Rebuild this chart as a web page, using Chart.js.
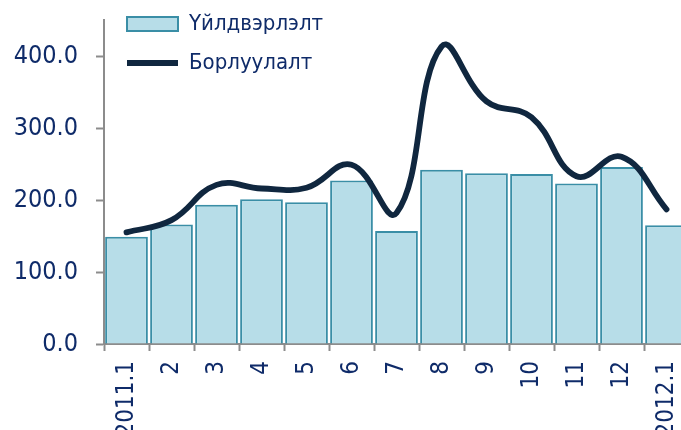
<!DOCTYPE html>
<html>
<head>
<meta charset="utf-8">
<script src="https://cdn.jsdelivr.net/npm/chart.js@4.4.1/dist/chart.umd.min.js"></script>
<style>
  html, body { margin: 0; padding: 0; background: #ffffff; overflow: hidden; width: 681px; height: 430px; }
  #wrap { width: 681px; height: 430px; overflow: hidden; position: relative; }
  canvas { display: block; }
</style>
</head>
<body>
<div id="wrap"><canvas id="c" width="689" height="430"></canvas></div>
<script>
const categories = ['2011.1', '2', '3', '4', '5', '6', '7', '8', '9', '10', '11', '12', '2012.1'];
const productionValues = [149, 166, 193.5, 201, 197, 227, 157, 242, 237, 236, 223, 246, 165];
const salesValues = [155, 172, 221, 216, 217, 249, 182, 413, 337, 315, 233, 260, 187];
const yTicks = [0, 100, 200, 300, 400];
const seriesNames = ['Үйлдвэрлэлт', 'Борлуулалт'];

const FONT = '"DejaVu Sans Condensed", "Liberation Sans", sans-serif';
const NAVY = '#0f2b69';
const GREY = '#8c8c8c';

const legendPlace = {
  id: 'legendPlace',
  afterLayout(chart) {
    if (chart.legend) {
      chart.legend.left = 110;
      chart.legend.top = -4;
    }
  }
};

new Chart(document.getElementById('c'), {
  data: {
    labels: categories,
    datasets: [
      {
        type: 'line',
        label: seriesNames[1],
        data: salesValues,
        borderColor: '#10273f',
        backgroundColor: '#10273f',
        borderWidth: 5.8,
        borderCapStyle: 'round',
        pointRadius: 0,
        pointHoverRadius: 0,
        tension: 0.42,
        fill: false,
        order: 0,
        pointStyle: 'line'
      },
      {
        type: 'bar',
        label: seriesNames[0],
        data: productionValues,
        backgroundColor: '#b7dde8',
        borderColor: '#3a8ea6',
        borderWidth: 2,
        barPercentage: 0.95,
        categoryPercentage: 1.0,
        order: 1,
        pointStyle: 'rect'
      }
    ]
  },
  options: {
    responsive: false,
    animation: false,
    events: [],
    layout: { padding: { top: 20, left: 0, right: 0, bottom: 0 } },
    plugins: {
      tooltip: { enabled: false },
      legend: {
        position: 'chartArea',
        align: 'start',
        reverse: true,
        labels: {
          usePointStyle: true,
          pointStyleWidth: 51,
          boxHeight: 14,
          padding: 17,
          color: NAVY,
          font: { family: FONT, size: 22 }
        }
      }
    },
    scales: {
      x: {
        offset: true,
        grid: {
          offset: true,
          drawOnChartArea: false,
          drawTicks: true,
          tickLength: 7,
          tickWidth: 2,
          tickColor: GREY
        },
        border: { display: true, color: GREY, width: 2 },
        ticks: {
          autoSkip: false,
          minRotation: 90,
          maxRotation: 90,
          padding: 10,
          color: NAVY,
          font: { family: FONT, size: 24 }
        },
        afterFit(scale) {
          scale.height = 86;
          scale.paddingLeft = 0;
          scale.paddingRight = 0;
        }
      },
      y: {
        min: 0,
        max: 450,
        afterBuildTicks(axis) {
          axis.ticks = yTicks.map(v => ({ value: v }));
        },
        grid: {
          drawOnChartArea: false,
          drawTicks: true,
          tickLength: 8,
          tickWidth: 2,
          tickColor: GREY
        },
        border: { display: true, color: GREY, width: 2 },
        ticks: {
          padding: 18,
          color: NAVY,
          font: { family: FONT, size: 25 },
          callback: (v) => Number(v).toFixed(1)
        },
        afterFit(scale) {
          scale.width = 104;
          scale.paddingTop = 0;
          scale.paddingBottom = 0;
        }
      }
    }
  },
  plugins: [legendPlace]
});
</script>
</body>
</html>
